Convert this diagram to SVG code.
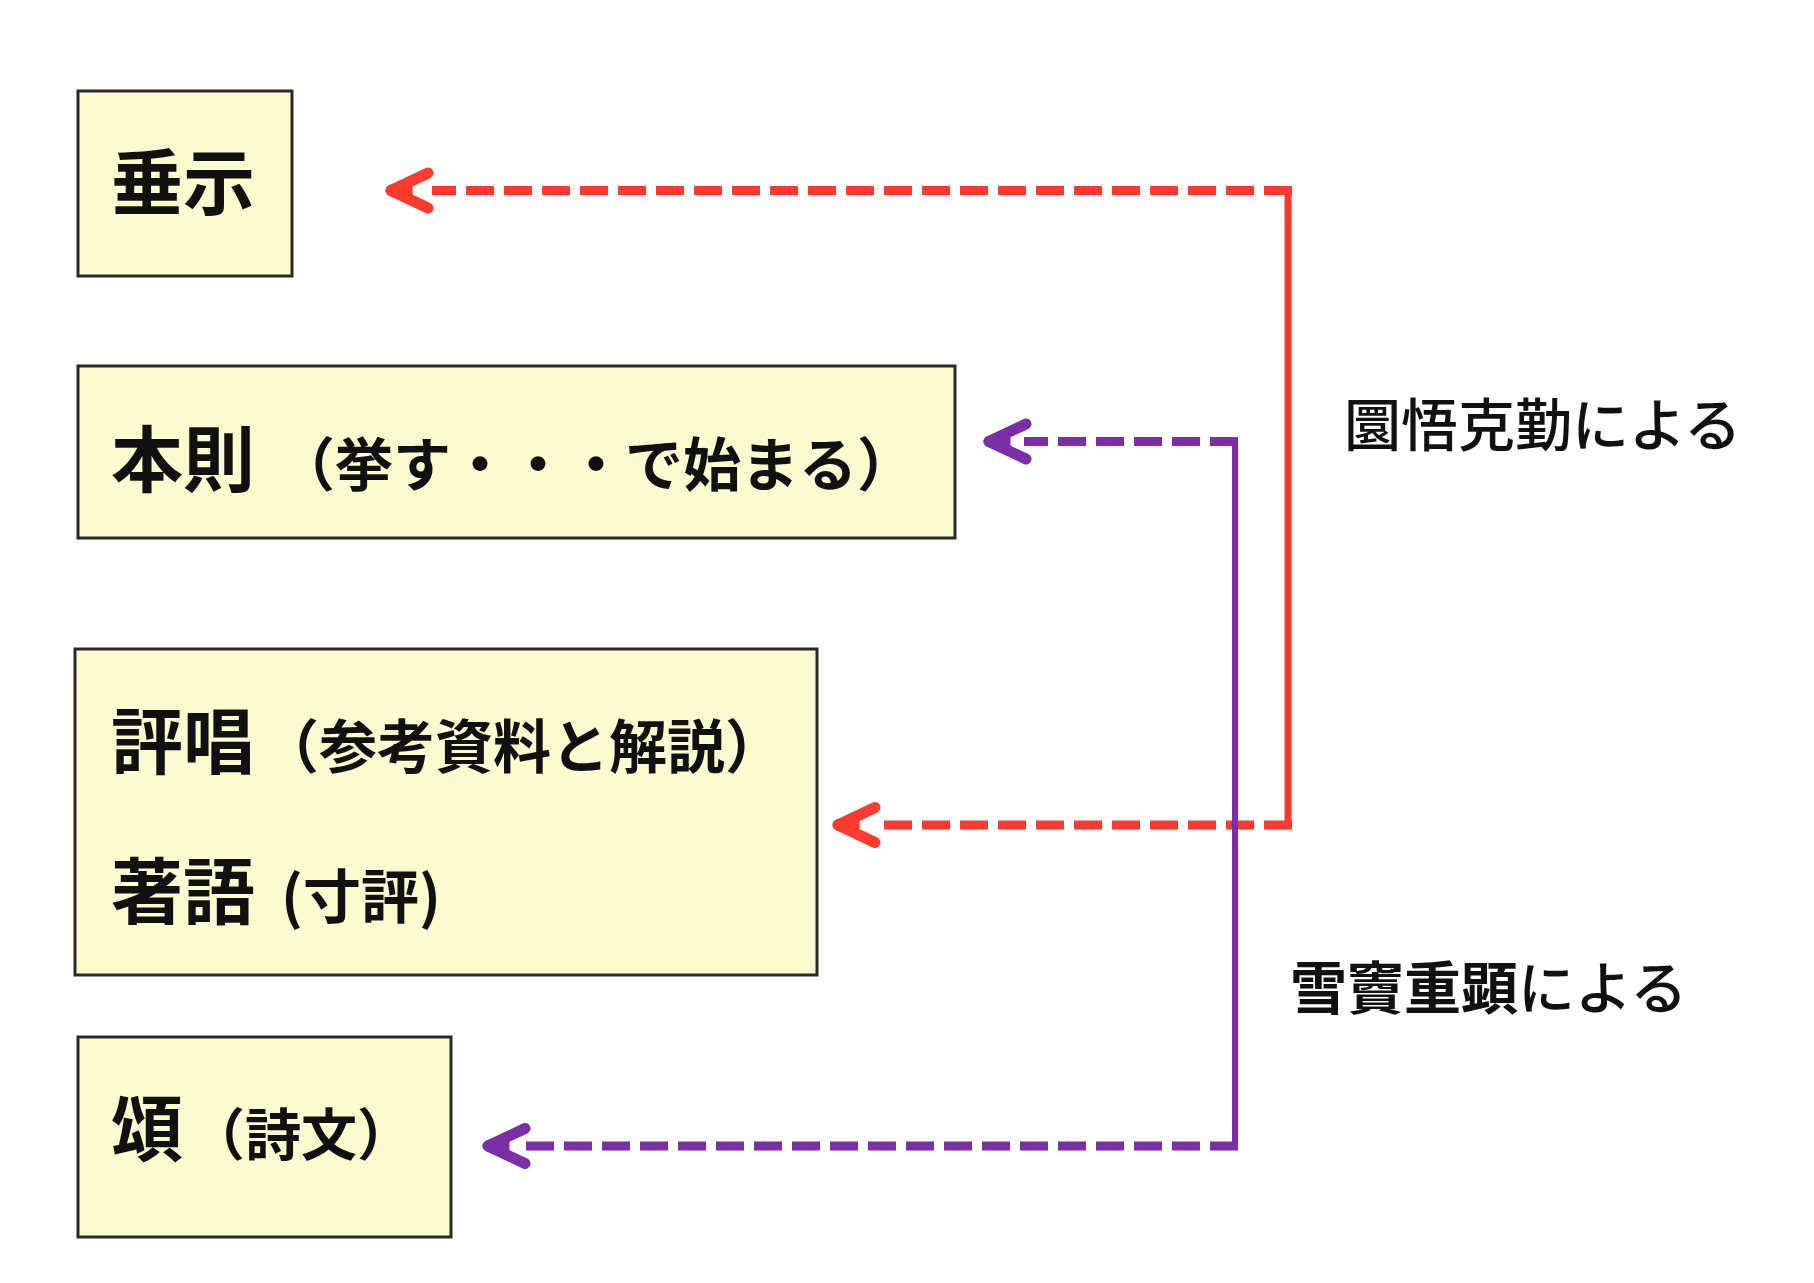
<svg xmlns="http://www.w3.org/2000/svg" width="1814" height="1283" viewBox="0 0 1814 1283">
<style>
.box{fill:#fbfbd0;stroke:#2a2a2a;stroke-width:3}
.t{font-family:"Noto Sans CJK JP","Noto Sans CJK SC",sans-serif;font-weight:700;fill:#111}
.big{font-size:72px}
.small{font-size:58px}
.lbl{font-family:"Noto Sans CJK JP","Noto Sans CJK SC",sans-serif;font-size:57px;font-weight:500;fill:#111}
.dr{fill:none;stroke:#ff3b2f;stroke-width:9;stroke-dasharray:28 10}
.sr{fill:none;stroke:#ff3b2f;stroke-width:7}
.ar{fill:#ff3b2f;stroke:#ff3b2f;stroke-width:11;stroke-linecap:round;stroke-linejoin:round}
.dp{fill:none;stroke:#7b2fa6;stroke-width:9;stroke-dasharray:28 10}
.sp{fill:none;stroke:#7b2fa6;stroke-width:6}
.ap{fill:#7b2fa6;stroke:#7b2fa6;stroke-width:11;stroke-linecap:round;stroke-linejoin:round}
</style>
<defs>
<g id="head">
<polyline points="37,-17.5 0,0 37,17.5" fill="none"/>
<polygon points="0,0 16,-6 16,6"/>
</g>
</defs>
<rect width="1814" height="1283" fill="#ffffff"/>
<g id="node-suiji">
<rect class="box" x="78" y="91" width="214" height="185"/>
<text class="t big" x="111" y="209">垂示</text>
</g>
<g id="node-honsoku">
<rect class="box" x="78" y="366" width="877" height="172"/>
<text class="t" x="111" y="486"><tspan class="big">本則</tspan><tspan class="small" x="277">（挙す・・・で始まる）</tspan></text>
</g>
<g id="node-hyosho">
<rect class="box" x="75" y="649" width="742" height="326"/>
<text class="t" x="111" y="768"><tspan class="big">評唱</tspan><tspan class="small" x="261">（参考資料と解説）</tspan></text>
<text class="t" x="111" y="918"><tspan class="big">著語</tspan><tspan class="small" x="281">(寸評)</tspan></text>
</g>
<g id="node-ju">
<rect class="box" x="78" y="1037" width="373" height="200"/>
<text class="t" x="111" y="1155"><tspan class="big">頌</tspan><tspan class="small" style="font-size:56px" x="189">（詩文）</tspan></text>
</g>
<g id="connectors">
<path class="sr" d="M1288,186 V829"/>
<path class="dr" d="M1292,190.5 H432"/>
<use href="#head" class="ar" transform="translate(391,190.5)"/>
<path class="dr" d="M1292,825 H874"/>
<use href="#head" class="ar" transform="translate(838,825)"/>
<path class="sp" d="M1235,438 V1149"/>
<path class="dp" d="M1238,441.5 H1024"/>
<use href="#head" class="ap" transform="translate(989,441.5)"/>
<path class="dp" d="M1238,1146 H524"/>
<use href="#head" class="ap" transform="translate(488,1146)"/>
</g>
<g id="label-engo">
<text class="lbl" x="1344" y="446">圜悟克勤による</text>
</g>
<g id="label-setcho">
<text class="lbl" x="1290" y="1009"><tspan font-weight="700">雪竇重顕</tspan>による</text>
</g>
</svg>
